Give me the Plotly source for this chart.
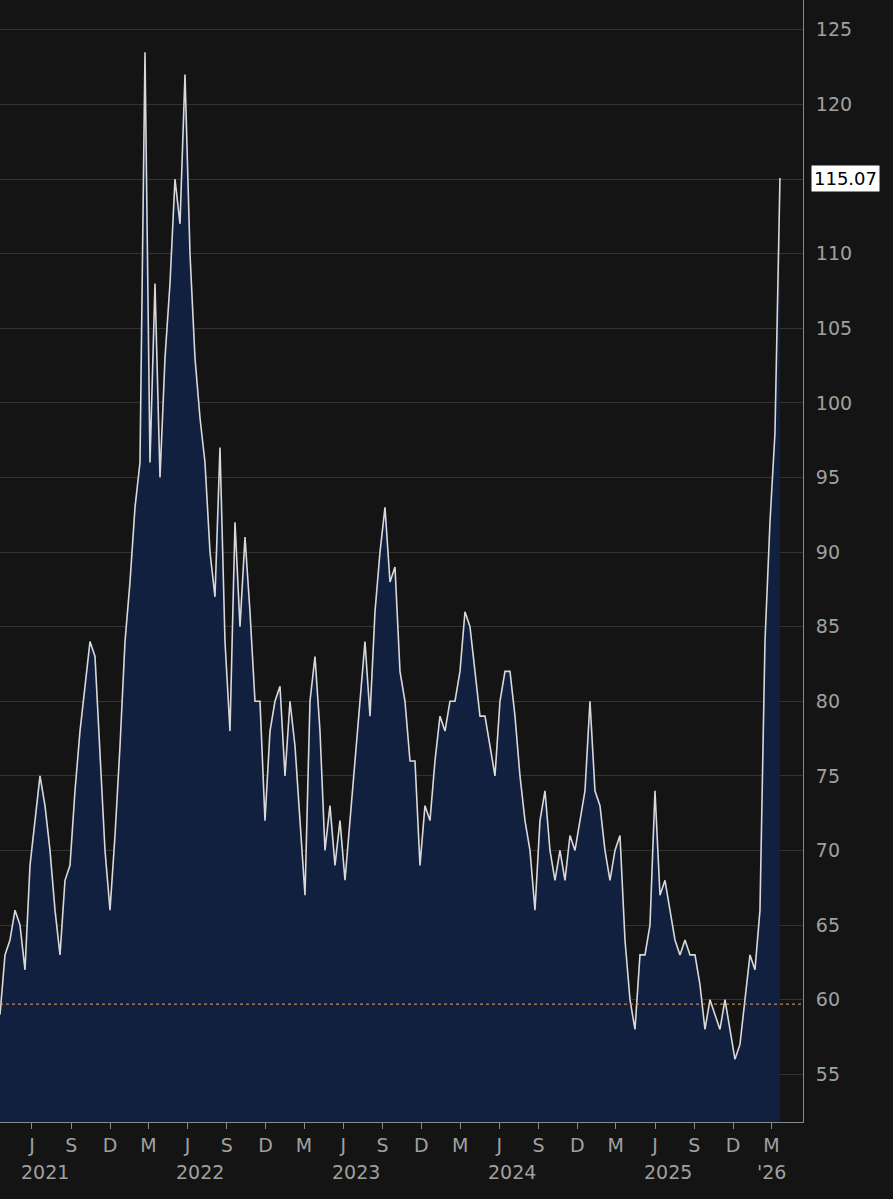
import plotly.graph_objects as go
import pandas as pd

values = [59,63,64,66,65,62,69,72,75,73,70,66,63,68,69,74,78,81,84,83,76,70,66,71,77,84,88,93,96,123.5,
96,108,95,103,108,115,112,122,110,103,99,96,90,87,97,84,78,92,85,91,86,80,80,72,78,80,81,75,80,77,
72,67,80,83,78,70,73,69,72,68,72,76,80,84,79,86,90,93,88,89,82,80,76,76,69,73,72,76,79,78,
80,80,82,86,85,82,79,79,77,75,80,82,82,79,75,72,70,66,72,74,70,68,70,68,71,70,72,74,80,74,
73,70,68,70,71,64,60,58,63,63,65,74,67,68,66,64,63,64,63,63,61,58,60,59,58,60,58,56,57,60,
63,62,66,84,92,98,115.07]
dates = pd.date_range("2021-03-18", "2026-03-21", periods=len(values))
ref_level = 59.7
y_ticks = list(range(55, 130, 5))
y_text = ["" if v == 115 else str(v) for v in y_ticks]
month_ticks = pd.date_range("2021-06-01", "2026-03-01", freq="3MS")
month_text = [{6: "J", 9: "S", 12: "D", 3: "M"}[d.month] for d in month_ticks]
year_pos = ["2021-07-01", "2022-07-01", "2023-07-01", "2024-07-01", "2025-07-01", "2026-03-01"]
year_text = ["2021", "2022", "2023", "2024", "2025", "'26"]

fig = go.Figure()
fig.add_trace(go.Scatter(x=dates, y=values, mode="lines", fill="tozeroy",
                         fillcolor="#12203f", line=dict(color="#d8d8d8", width=1.6)))
fig.add_hline(y=ref_level, line=dict(color="#e8a060", width=1, dash="dot"))
for p, t in zip(year_pos, year_text):
    fig.add_annotation(x=p, y=-0.033, yref="paper", text=t, showarrow=False,
                       font=dict(size=19, color="#a0a0a0"), yanchor="top")
fig.add_annotation(x=1, xref="paper", y=values[-1], text=f"{values[-1]:.2f}", showarrow=False,
                   xanchor="left", xshift=8, bgcolor="white", font=dict(size=18, color="black"),
                   borderpad=2)
fig.update_layout(
    width=893, height=1199, margin=dict(l=0, r=90, t=0, b=77),
    paper_bgcolor="#141414", plot_bgcolor="#141414", showlegend=False,
    font=dict(family="DejaVu Sans", color="#a0a0a0", size=19),
    xaxis=dict(range=["2021-03-18", "2026-05-14"], tickvals=month_ticks, ticktext=month_text,
               showgrid=False, ticks="outside", tickcolor="#888", ticklen=6, zeroline=False,
               showline=True, linecolor="#888"),
    yaxis=dict(side="right", range=[51.8, 127], tickvals=y_ticks, ticktext=y_text,
               gridcolor="#333333", zeroline=False, showline=True, linecolor="#888",
               ticks="", ticklabelstandoff=8),
)
fig.write_html("out.html", config={"displayModeBar": False})
with open("out.html") as f:
    html = f.read()
html = html.replace("<head>", "<head><style>body{margin:0;background:#141414}</style>", 1)
with open("out.html", "w") as f:
    f.write(html)
